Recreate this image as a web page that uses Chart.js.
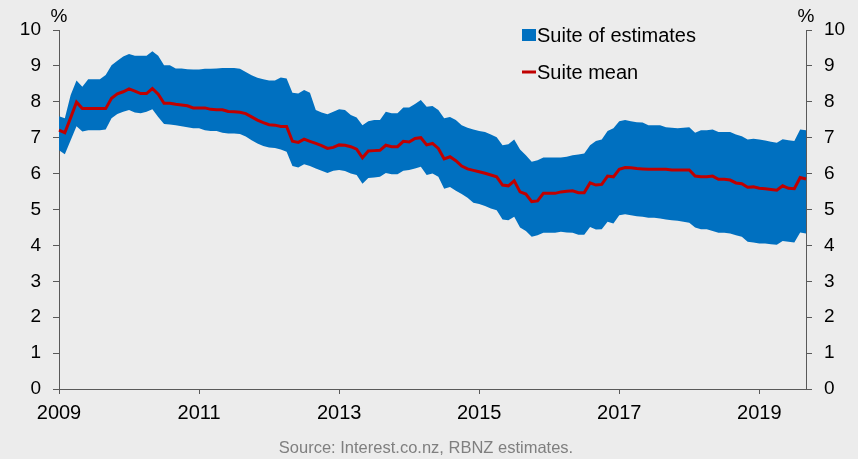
<!DOCTYPE html>
<html>
<head>
<meta charset="utf-8">
<script src="https://cdn.jsdelivr.net/npm/chart.js@4.4.1/dist/chart.umd.min.js"></script>
<style>
  html, body { margin: 0; padding: 0; background: #ececec; }
  #wrap { width: 858px; height: 459px; }
</style>
</head>
<body>
<div id="wrap"><canvas id="myChart" width="858" height="459"></canvas></div>
<script>
// monthly series, Jan 2009 - Sep 2019
var startYear = 2009;
var xTickYears = [2009, 2011, 2013, 2015, 2017, 2019];
var yTicks = [0, 1, 2, 3, 4, 5, 6, 7, 8, 9, 10];

var upper = [7.60, 7.54, 8.19, 8.59, 8.42, 8.63, 8.63, 8.63, 8.75, 9.02, 9.14, 9.26,
  9.33, 9.28, 9.28, 9.28, 9.41, 9.28, 9.02, 9.02, 8.93, 8.93, 8.91, 8.90,
  8.90, 8.92, 8.92, 8.93, 8.94, 8.94, 8.94, 8.92, 8.83, 8.74, 8.67, 8.63,
  8.59, 8.59, 8.68, 8.65, 8.25, 8.23, 8.33, 8.25, 7.77, 7.70, 7.65, 7.72,
  7.79, 7.77, 7.63, 7.56, 7.35, 7.46, 7.49, 7.49, 7.72, 7.68, 7.68, 7.84,
  7.84, 7.94, 8.05, 7.86, 7.88, 7.77, 7.54, 7.58, 7.49, 7.35, 7.28, 7.23,
  7.19, 7.16, 7.09, 7.01, 6.79, 6.82, 6.95, 6.67, 6.51, 6.33, 6.37, 6.45,
  6.45, 6.45, 6.45, 6.47, 6.51, 6.53, 6.56, 6.79, 6.91, 6.95, 7.19, 7.26,
  7.46, 7.49, 7.46, 7.43, 7.42, 7.35, 7.35, 7.35, 7.29, 7.28, 7.26, 7.28,
  7.29, 7.14, 7.21, 7.21, 7.23, 7.16, 7.16, 7.16, 7.09, 7.04, 6.95, 6.97,
  6.95, 6.92, 6.89, 6.86, 6.96, 6.93, 6.91, 7.23, 7.21];

var mean = [7.21, 7.14, 7.56, 7.99, 7.81, 7.81, 7.81, 7.81, 7.81, 8.10, 8.22, 8.28,
  8.36, 8.30, 8.23, 8.23, 8.37, 8.21, 7.96, 7.96, 7.93, 7.91, 7.89, 7.83,
  7.83, 7.83, 7.79, 7.78, 7.78, 7.73, 7.72, 7.71, 7.67, 7.58, 7.49, 7.42,
  7.36, 7.35, 7.31, 7.31, 6.90, 6.87, 6.96, 6.90, 6.84, 6.78, 6.70, 6.73,
  6.80, 6.79, 6.75, 6.68, 6.44, 6.63, 6.64, 6.65, 6.79, 6.75, 6.75, 6.90,
  6.88, 6.98, 7.00, 6.80, 6.84, 6.70, 6.41, 6.47, 6.36, 6.21, 6.13, 6.09,
  6.05, 6.01, 5.96, 5.91, 5.68, 5.66, 5.80, 5.49, 5.43, 5.22, 5.24, 5.45,
  5.45, 5.45, 5.49, 5.51, 5.52, 5.47, 5.47, 5.74, 5.68, 5.70, 5.93, 5.91,
  6.12, 6.17, 6.16, 6.14, 6.13, 6.12, 6.12, 6.12, 6.12, 6.10, 6.10, 6.10,
  6.10, 5.93, 5.91, 5.91, 5.93, 5.84, 5.84, 5.82, 5.74, 5.72, 5.62, 5.63,
  5.59, 5.58, 5.56, 5.54, 5.66, 5.59, 5.58, 5.89, 5.85];

var lower = [6.65, 6.54, 6.93, 7.32, 7.17, 7.21, 7.21, 7.21, 7.23, 7.54, 7.66, 7.72,
  7.77, 7.70, 7.68, 7.72, 7.79, 7.58, 7.38, 7.37, 7.35, 7.32, 7.29, 7.26,
  7.26, 7.21, 7.19, 7.19, 7.14, 7.12, 7.12, 7.10, 7.03, 6.93, 6.84, 6.77,
  6.73, 6.71, 6.67, 6.61, 6.21, 6.17, 6.26, 6.21, 6.14, 6.08, 6.02, 6.08,
  6.10, 6.07, 6.00, 5.96, 5.72, 5.88, 5.89, 5.91, 6.02, 5.98, 5.98, 6.08,
  6.10, 6.14, 6.19, 5.96, 6.00, 5.91, 5.58, 5.63, 5.52, 5.43, 5.33, 5.19,
  5.15, 5.10, 5.03, 4.98, 4.72, 4.70, 4.80, 4.50, 4.40, 4.24, 4.28, 4.35,
  4.35, 4.35, 4.38, 4.36, 4.35, 4.30, 4.30, 4.51, 4.44, 4.45, 4.66, 4.61,
  4.84, 4.87, 4.84, 4.81, 4.80, 4.77, 4.77, 4.75, 4.72, 4.70, 4.69, 4.66,
  4.63, 4.50, 4.45, 4.45, 4.40, 4.35, 4.35, 4.33, 4.28, 4.24, 4.10, 4.08,
  4.05, 4.05, 4.03, 4.02, 4.12, 4.10, 4.08, 4.36, 4.33];

var months = [];
for (var i = 0; i < mean.length; i++) {
    months.push((startYear + Math.floor(i / 12)) + '-' + (i % 12 + 1));
}

function yearLabel(index) {
    var yr = startYear + Math.floor(index / 12);
    if (index % 12 === 0 && xTickYears.indexOf(yr) >= 0) return String(yr);
    return '';
}

var FONT = "'Liberation Sans', Arial, sans-serif";
var AXIS = '#595959';
Chart.defaults.font.family = FONT;
Chart.defaults.color = '#000';

// legend, % signs and source note
var extras = {
    id: 'extras',
    afterDraw: function(chart) {
        var ctx = chart.ctx;
        var area = chart.chartArea;
        var ds = chart.data.datasets;
        ctx.save();
        ctx.fillStyle = '#000';
        ctx.font = '19px ' + FONT;
        ctx.textAlign = 'center';
        ctx.textBaseline = 'middle';
        ctx.fillText('%', area.left, 17);
        ctx.fillText('%', area.right, 17);

        var lx = 522;
        ctx.fillStyle = ds[2].backgroundColor;
        ctx.fillRect(lx, 29, 14, 12);
        ctx.strokeStyle = ds[0].borderColor;
        ctx.lineWidth = 3;
        ctx.beginPath();
        ctx.moveTo(lx, 72);
        ctx.lineTo(lx + 14, 72);
        ctx.stroke();
        ctx.fillStyle = '#000';
        ctx.font = '20px ' + FONT;
        ctx.textAlign = 'left';
        ctx.fillText(ds[2].label, lx + 15, 36);
        ctx.fillText(ds[0].label, lx + 15, 73);

        ctx.fillStyle = '#7f7f7f';
        ctx.font = '16.5px ' + FONT;
        ctx.textAlign = 'center';
        ctx.fillText('Source: Interest.co.nz, RBNZ estimates.', 426, 448);
        ctx.restore();
    }
};

window.addEventListener('load', function() {
    var ctx = document.getElementById('myChart').getContext('2d');
    var myChart = new Chart(ctx, {
        type: 'line',
        data: {
            labels: months,
            datasets: [{
                label: 'Suite mean',
                data: mean,
                borderColor: '#c00000',
                borderWidth: 3,
                pointRadius: 0,
                fill: false,
                tension: 0
            }, {
                label: '',
                data: lower,
                borderWidth: 0,
                borderColor: 'rgba(0,0,0,0)',
                pointRadius: 0,
                fill: false
            }, {
                label: 'Suite of estimates',
                data: upper,
                borderWidth: 0,
                borderColor: 'rgba(0,0,0,0)',
                backgroundColor: '#0070c0',
                pointRadius: 0,
                fill: '-1'
            }]
        },
        options: {
            responsive: false,
            animation: false,
            devicePixelRatio: 1,
            layout: { padding: { top: 30, left: 0, right: 0, bottom: 0 } },
            plugins: {
                legend: { display: false },
                tooltip: { enabled: false }
            },
            scales: {
                x: {
                    type: 'category',
                    offset: false,
                    grid: {
                        drawOnChartArea: false,
                        tickLength: 5,
                        tickColor: function(c) { return yearLabel(c.index) ? AXIS : 'rgba(0,0,0,0)'; }
                    },
                    border: { color: AXIS, width: 1 },
                    ticks: {
                        autoSkip: false,
                        maxRotation: 0,
                        padding: 7,
                        font: { size: 20 },
                        callback: function(v, i) { return yearLabel(i); }
                    },
                    afterFit: function(s) { s.height = 70; }
                },
                y: {
                    position: 'left',
                    min: 0,
                    max: 10,
                    afterBuildTicks: function(s) { s.ticks = yTicks.map(function(v) { return { value: v }; }); },
                    grid: { drawOnChartArea: false, tickLength: 6, tickColor: AXIS },
                    border: { color: AXIS, width: 1 },
                    ticks: { padding: 12, font: { size: 19 } },
                    afterFit: function(s) { s.width = 59; }
                },
                y2: {
                    position: 'right',
                    min: 0,
                    max: 10,
                    afterBuildTicks: function(s) { s.ticks = yTicks.map(function(v) { return { value: v }; }); },
                    grid: { drawOnChartArea: false, tickLength: 6, tickColor: AXIS },
                    border: { color: AXIS, width: 1 },
                    ticks: { padding: 12, font: { size: 19 } },
                    afterFit: function(s) { s.width = 52; }
                }
            }
        },
        plugins: [extras]
    });
});
</script>
</body>
</html>
